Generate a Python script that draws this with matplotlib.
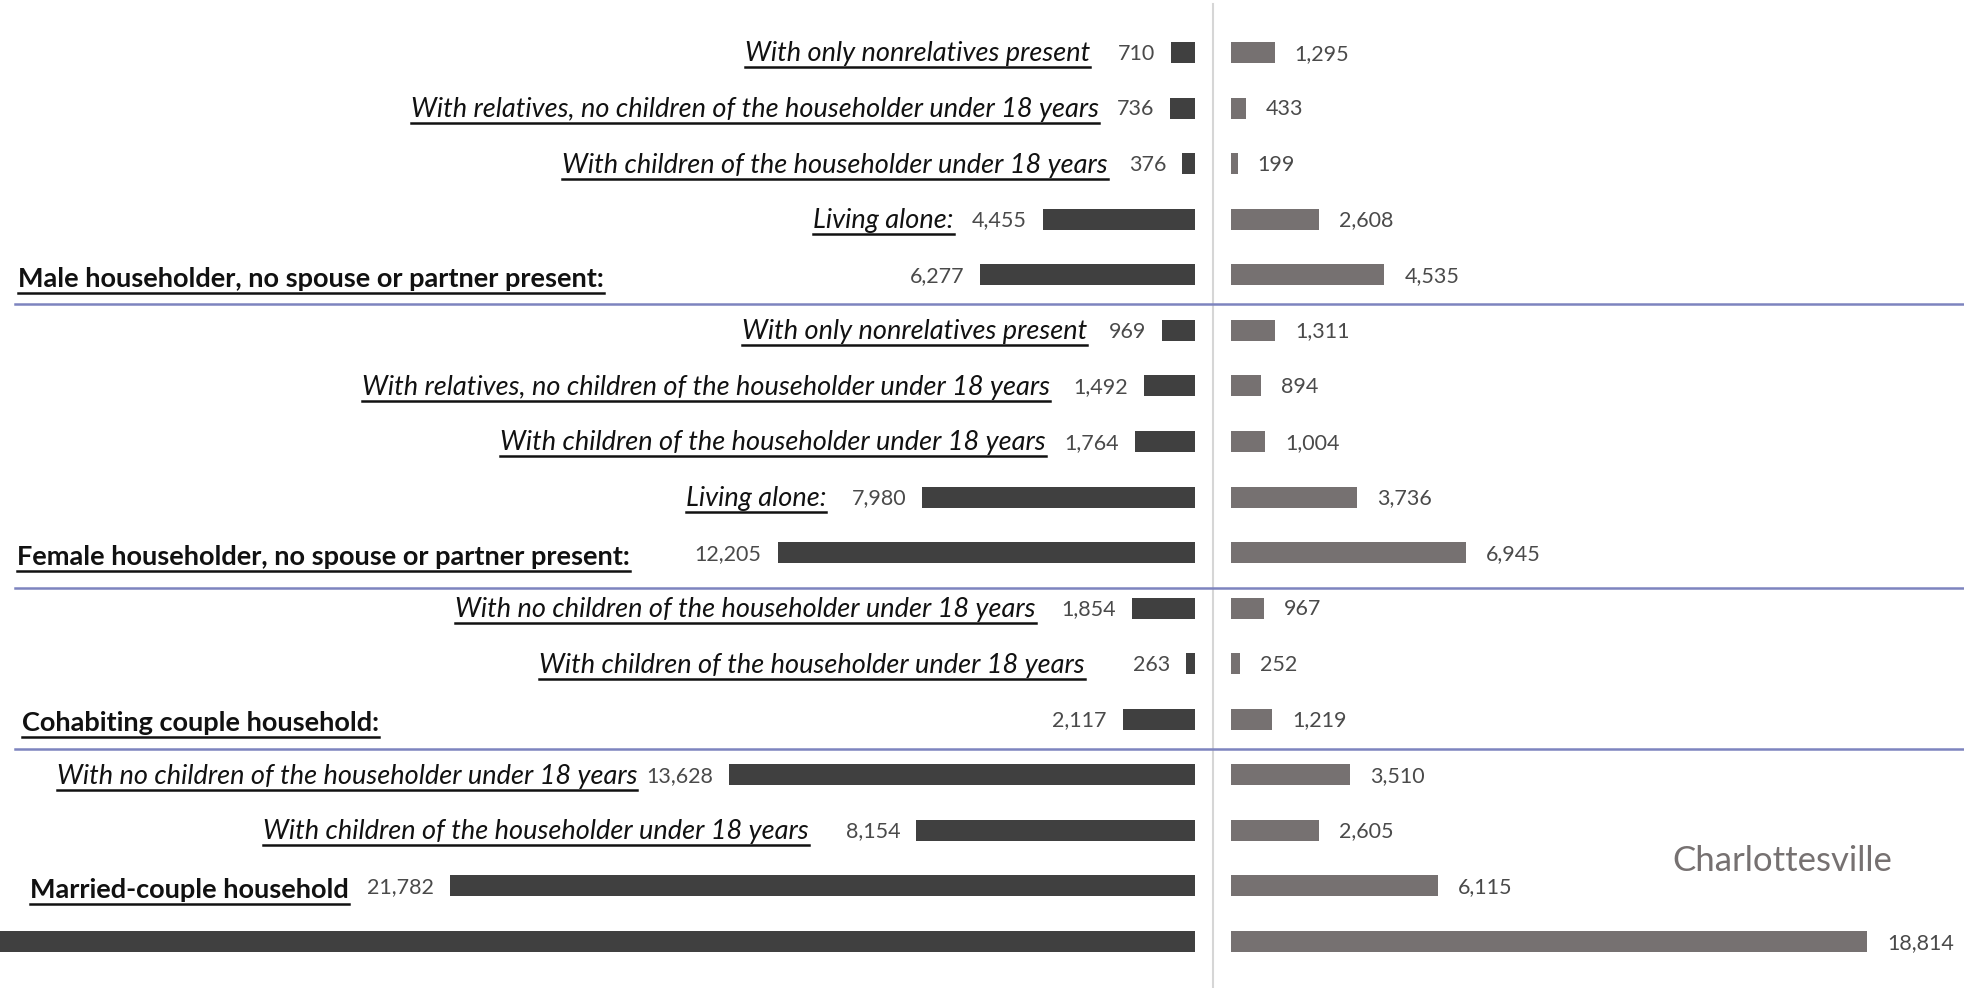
import matplotlib
matplotlib.use("Agg")
import matplotlib.pyplot as plt
from matplotlib.lines import Line2D
from matplotlib import transforms

# ---------------- data ----------------
labels = [
    "With only nonrelatives present",
    "With relatives, no children of the householder under 18 years",
    "With children of the householder under 18 years",
    "Living alone:",
    "Male householder, no spouse or partner present:",
    "With only nonrelatives present",
    "With relatives, no children of the householder under 18 years",
    "With children of the householder under 18 years",
    "Living alone:",
    "Female householder, no spouse or partner present:",
    "With no children of the householder under 18 years",
    "With children of the householder under 18 years",
    "Cohabiting couple household:",
    "With no children of the householder under 18 years",
    "With children of the householder under 18 years",
    "Married-couple household",
    "",
]
is_main = [False, False, False, False, True,
           False, False, False, False, True,
           False, False, True,
           False, False, True, False]
left_values = [710, 736, 376, 4455, 6277,
               969, 1492, 1764, 7980, 12205,
               1854, 263, 2117,
               13628, 8154, 21782, 42381]
right_values = [1295, 433, 199, 2608, 4535,
                1311, 894, 1004, 3736, 6945,
                967, 252, 1219,
                3510, 2605, 6115, 18814]
place_name = "Charlottesville"

# ---------------- layout (pixel offsets only) ----------------
# gap between a sub-label's right edge and its value label; x start for main labels
label_gap = [27, 17, 21, 18, 18, 21, 23, 18, 25, 18, 25, 48, 18, 9, 37, 18, 18]
main_x = {4: 18, 9: 17, 12: 22, 15: 30}

W, H, DPI = 1964, 988, 100
fig = plt.figure(figsize=(W / DPI, H / DPI), dpi=DPI)
fig.patch.set_facecolor("white")

row0, rowstep = 52.6, 55.55
ylim = ((H - row0) / rowstep, -row0 / rowstep)

left_end_px, right_start_px = 1195, 1231
kl, kr = 0.0342, 0.0338

axL = fig.add_axes([0, 0, left_end_px / W, 1])
axR = fig.add_axes([right_start_px / W, 0, 1 - right_start_px / W, 1])
axL.set_xlim(left_end_px / kl, 0)
axR.set_xlim(0, (W - right_start_px) / kr)
for ax in (axL, axR):
    ax.set_ylim(*ylim)
    ax.axis("off")

rows = list(range(len(labels)))
bar_h = 21 / rowstep
axL.barh(rows, left_values, height=bar_h, color="#404040")
axR.barh(rows, right_values, height=bar_h, color="#767171")

FONT = "Lato"
val_color = "#4a4a4a"
lab_color = "#111111"
val_size = 15.5
sub_size = 19.5
main_size = 19.5

base_off = 0.16

offL = transforms.offset_copy(axL.transData, fig=fig, x=-16, y=0, units="dots")
offR = transforms.offset_copy(axR.transData, fig=fig, x=20, y=0, units="dots")

val_texts = []
for i in rows:
    if i < len(rows) - 1:
        t = axL.text(left_values[i], i + 0.13, f"{left_values[i]:,}", transform=offL,
                     ha="right", va="baseline", fontsize=val_size, family=FONT,
                     color=val_color)
        val_texts.append(t)
    else:
        val_texts.append(None)
    axR.text(right_values[i], i + 0.13, f"{right_values[i]:,}", transform=offR,
             ha="left", va="baseline", fontsize=val_size, family=FONT, color=val_color)

fig.canvas.draw()
renderer = fig.canvas.get_renderer()

lab_texts = []
for i in rows:
    if not labels[i]:
        continue
    if is_main[i]:
        ydisp = axL.transData.transform((0, i + base_off + 0.06))[1]
        t = fig.text(main_x.get(i, 18) / W, ydisp / H, labels[i], ha="left", va="baseline",
                     fontsize=main_size, fontweight="bold", family=FONT, color=lab_color)
    else:
        ydisp = axL.transData.transform((0, i + base_off))[1]
        vx0 = val_texts[i].get_window_extent(renderer).x0
        t = fig.text((vx0 - label_gap[i]) / W, ydisp / H, labels[i], ha="right",
                     va="baseline", fontsize=sub_size, fontstyle="italic", family=FONT,
                     color=lab_color)
    lab_texts.append((t, ydisp))

fig.canvas.draw()
for t, ydisp in lab_texts:
    bb = t.get_window_extent(renderer)
    yu = ydisp - 6
    fig.add_artist(Line2D([bb.x0 / W, bb.x1 / W], [yu / H, yu / H],
                          color=lab_color, lw=1.8))

# vertical divider
fig.add_artist(Line2D([1213 / W, 1213 / W], [0, (H - 4) / H], color="#d6d6d6", lw=1.5))

# group separators
for r in (4.53, 9.64, 12.54):
    yd = axL.transData.transform((0, r))[1]
    fig.add_artist(Line2D([15 / W, 1], [yd / H, yd / H], color="#7d84bf", lw=1.8))

# place name
yd = axL.transData.transform((0, 14.55))[1]
fig.text(1782 / W, yd / H, place_name, ha="center", va="center", fontsize=25,
         family=FONT, color="#767171")

fig.savefig("out.png", dpi=DPI, facecolor="white")
